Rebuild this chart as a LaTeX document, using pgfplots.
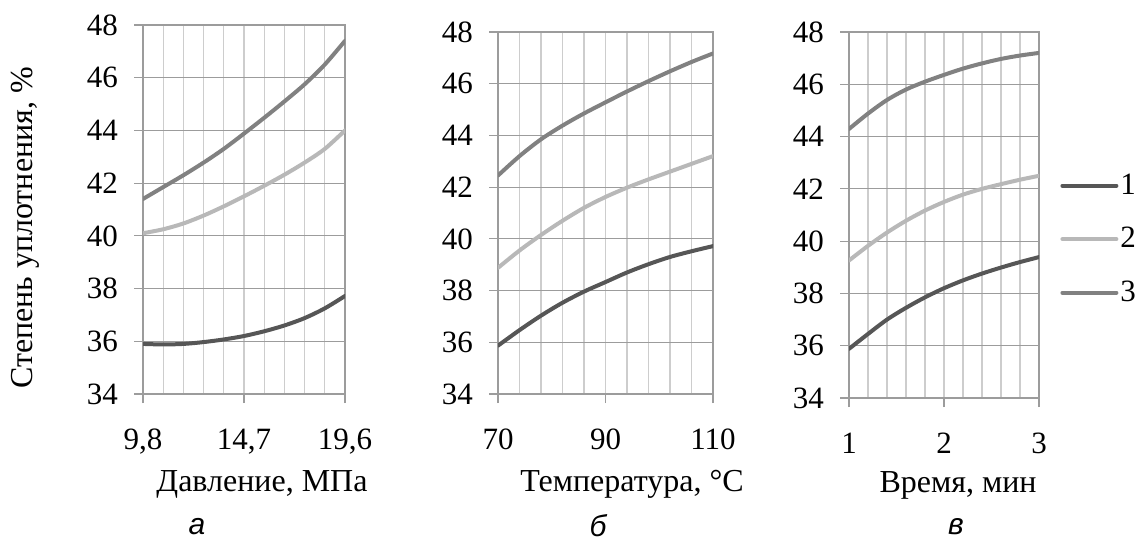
\documentclass[border=0pt]{standalone}
\usepackage{fontspec}
\setmainfont{Liberation Serif}
\newfontfamily\lserif{Liberation Serif}
\newfontfamily\lsans{Liberation Sans}
\usepackage{pgfplots}
\pgfplotsset{compat=1.18}
\definecolor{c1}{HTML}{565656}
\definecolor{c2}{HTML}{B8B8B8}
\definecolor{c3}{HTML}{818181}
\definecolor{majgrid}{HTML}{9C9C9C}
\definecolor{mingrid}{HTML}{CDCDCD}
\pgfplotsset{
  panel/.style={
    scale only axis, anchor=south west,
    ymin=34, ymax=48, ytick={34,36,...,48},
    grid=both,
    major grid style={line width=0.6pt},
    minor grid style={line width=0.6pt},
    x grid style={mingrid},
    y grid style={majgrid},
    axis line style={majgrid, line width=0.6pt},
    tick style={majgrid, line width=0.6pt},
    major tick length=4.5pt, minor tick length=0pt,
    tick align=outside, xtick pos=bottom, ytick pos=left,
    tick label style={font=\lserif\fontsize{15.5}{18}\selectfont, text=black},
    /pgf/number format/assume math mode=true,
    yticklabel style={xshift=-4.5pt},
    xticklabel style={yshift=-9.5pt},
    every axis plot/.append style={smooth, line width=2pt, line cap=round},
  }
}
\begin{document}
\begin{tikzpicture}
\useasboundingbox (0,0) rectangle (569pt,271pt);
% panel a
\begin{axis}[panel, at={(71.5pt,74pt)}, width=101pt, height=184.5pt,
  xmin=9.8, xmax=19.6, xtick={9.8,14.7,19.6},
  xticklabels={{9,8},{14,7},{19,6}},
  minor xtick={10.78,11.76,12.74,13.72,15.68,16.66,17.64,18.62}]
\addplot[c1] coordinates {(9.8,35.9) (10.78,35.88) (11.76,35.9) (12.74,35.97) (13.72,36.07) (14.7,36.2) (15.68,36.38) (16.66,36.6) (17.64,36.88) (18.62,37.25) (19.6,37.72)};
\addplot[c2] coordinates {(9.8,40.1) (10.78,40.25) (11.76,40.47) (12.74,40.77) (13.72,41.12) (14.7,41.5) (15.68,41.9) (16.66,42.32) (17.64,42.78) (18.62,43.3) (19.6,44.0)};
\addplot[c3] coordinates {(9.8,41.4) (10.78,41.85) (11.76,42.3) (12.74,42.78) (13.72,43.3) (14.7,43.88) (15.68,44.48) (16.66,45.1) (17.64,45.75) (18.62,46.5) (19.6,47.4)};
\end{axis}
% panel b
\begin{axis}[panel, at={(249pt,74pt)}, width=107.5pt, height=181pt,
  xmin=70, xmax=110, xtick={70,90,110},
  minor xtick={74,78,82,86,94,98,102,106}]
\addplot[c1] coordinates {(70,35.87) (74,36.47) (78,37.03) (82,37.53) (86,37.96) (90,38.33) (94,38.7) (98,39.02) (102,39.3) (106,39.52) (110,39.72)};
\addplot[c2] coordinates {(70,38.88) (74,39.55) (78,40.15) (82,40.7) (86,41.2) (90,41.62) (94,41.98) (98,42.3) (102,42.6) (106,42.9) (110,43.2)};
\addplot[c3] coordinates {(70,42.45) (74,43.2) (78,43.85) (82,44.38) (86,44.85) (90,45.28) (94,45.7) (98,46.1) (102,46.48) (106,46.84) (110,47.17)};
\end{axis}
% panel c
\begin{axis}[panel, at={(424.5pt,72pt)}, width=95pt, height=183pt,
  xmin=1, xmax=3, xtick={1,2,3},
  minor xtick={1.2,1.4,1.6,1.8,2.2,2.4,2.6,2.8},
  legend style={at={(1,0.434)}, anchor=west, xshift=10.5pt, draw=none, fill=none,
    font=\lserif\fontsize{15.5}{18}\selectfont, row sep=13pt, inner sep=0pt,
    nodes={inner sep=1pt}},
  legend cell align=left,
  legend image code/.code={\draw[#1, line width=2pt, line cap=round] (0pt,0pt) -- (27pt,0pt);}]
\addplot[c1] coordinates {(1,35.88) (1.2,36.45) (1.4,37.0) (1.6,37.45) (1.8,37.85) (2.0,38.2) (2.2,38.5) (2.4,38.76) (2.6,38.99) (2.8,39.2) (3,39.39)};
\addplot[c2] coordinates {(1,39.26) (1.2,39.82) (1.4,40.33) (1.6,40.78) (1.8,41.17) (2.0,41.5) (2.2,41.78) (2.4,42.0) (2.6,42.18) (2.8,42.35) (3,42.5)};
\addplot[c3] coordinates {(1,44.29) (1.2,44.88) (1.4,45.4) (1.6,45.8) (1.8,46.1) (2.0,46.36) (2.2,46.6) (2.4,46.8) (2.6,46.97) (2.8,47.1) (3,47.2)};
\legend{1,2,3}
\end{axis}
\node[rotate=90, font=\lserif\fontsize{16}{19}\selectfont] at (12.5pt,157pt) {Степень уплотнения, \%};
\node[font=\lserif\fontsize{16}{19}\selectfont] at (131pt,29pt) {Давление, МПа};
\node[font=\lserif\fontsize{16}{19}\selectfont] at (316pt,29pt) {Температура, °C};
\node[font=\lserif\fontsize{16}{19}\selectfont] at (479pt,28.5pt) {Время, мин};
\node[font=\lsans\itshape\fontsize{15}{18}\selectfont] at (98.5pt,7.5pt) {а};
\node[font=\lsans\itshape\fontsize{15}{18}\selectfont] at (299pt,8pt) {б};
\node[font=\lsans\itshape\fontsize{15}{18}\selectfont] at (478pt,7.5pt) {в};
\end{tikzpicture}
\end{document}
